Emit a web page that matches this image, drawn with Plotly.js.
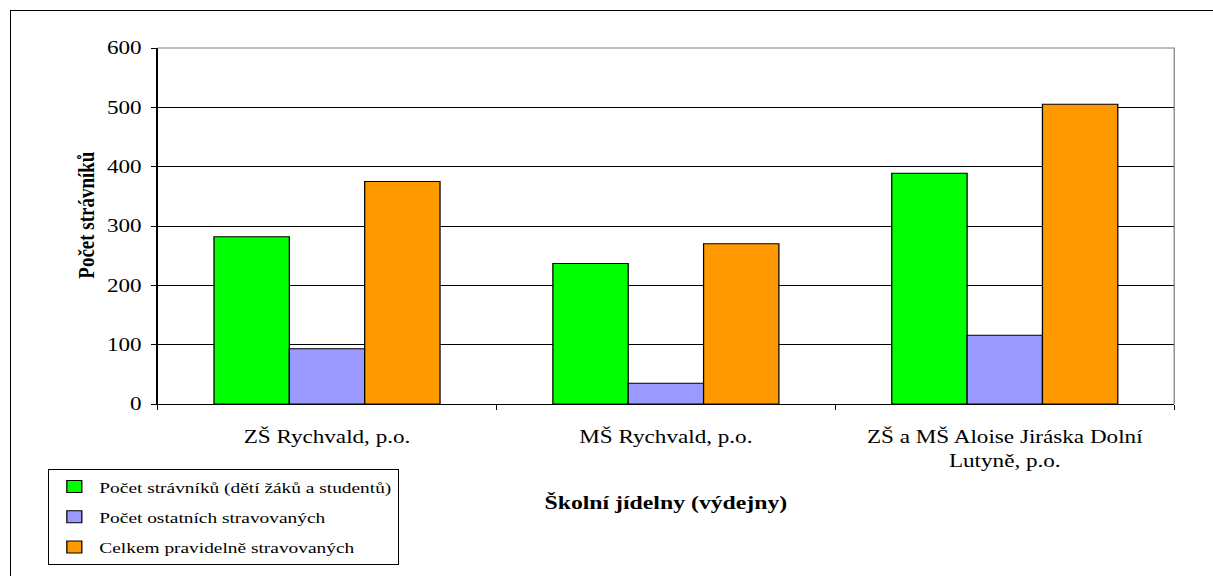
<!DOCTYPE html>
<html>
<head>
<meta charset="utf-8">
<script src="https://cdn.plot.ly/plotly-3.0.1.min.js"></script>
<style>
  html, body { margin: 0; padding: 0; background: #fff; overflow: hidden; }
  #wrap { position: relative; width: 1213px; height: 576px; overflow: hidden; }
  #chart { position: absolute; left: 0; top: 0; width: 970px; height: 576px;
           transform: scaleX(1.2505); transform-origin: 0 0; }
  #frame { position: absolute; left: 10px; top: 10px; width: 1300px; height: 700px;
           border-left: 1px solid #000; border-top: 1px solid #000; pointer-events: none; }
</style>
</head>
<body>
<div id="wrap">
  <div id="chart"></div>
  <div id="frame"></div>
</div>
<script>
const categories = [
  "ZŠ Rychvald, p.o.",
  "MŠ Rychvald, p.o.",
  "ZŠ a MŠ Aloise Jiráska Dolní<br>Lutyně, p.o."
];
const seriesNames = [
  "Počet strávníků (dětí žáků a studentů)",
  "Počet ostatních stravovaných",
  "Celkem pravidelně stravovaných"
];
const pupils = [282, 237, 389];
const others = [93, 35, 116];
const total = [375, 270, 505];
const colors = ["#00FF00", "#9999FF", "#FF9900"];
const yTicks = [0, 100, 200, 300, 400, 500, 600];

const FONT = "Liberation Serif, Times New Roman, serif";
const values = [pupils, others, total];
const traces = values.map((v, i) => ({
  type: "bar",
  name: seriesNames[i],
  x: categories,
  y: v,
  legendgroup: "g" + i,
  marker: { color: colors[i], line: { color: "#000", width: 1 } },
  hoverinfo: "none"
}));

const layout = {
  width: 970,
  height: 576,
  margin: { l: 126, r: 31, t: 48, b: 172, autoexpand: false },
  paper_bgcolor: "rgba(0,0,0,0)",
  plot_bgcolor: "#fff",
  barmode: "group",
  bargap: 0.333,
  bargroupgap: 0,
  font: { family: FONT, color: "#000" },
  xaxis: {
    type: "category",
    showline: true, linecolor: "#000", linewidth: 1,
    ticks: "outside", ticklen: 5, tickcolor: "#000", tickson: "boundaries",
    showgrid: false,
    tickangle: 0,
    tickfont: { family: FONT, size: 18.5, color: "#000" },
    ticklabelstandoff: 16,
    title: { text: "<b>Školní jídelny (výdejny)</b>", font: { family: FONT, size: 19, color: "#000" }, standoff: 25 },
    automargin: false
  },
  yaxis: {
    range: [0, 600],
    tickvals: yTicks,
    ticktext: yTicks.map(String),
    showline: true, linecolor: "#000", linewidth: 1,
    ticks: "outside", ticklen: 4, tickcolor: "#000",
    showgrid: true, gridcolor: "#000", gridwidth: 1,
    zeroline: false,
    tickfont: { family: FONT, size: 18.5, color: "#000" },
    ticklabelstandoff: 4,
    automargin: false
  },
  annotations: [{
    text: "<b>Počet strávníků</b>",
    xref: "paper", yref: "paper",
    x: -0.0704, y: 0.531,
    xanchor: "center", yanchor: "middle",
    textangle: -90, showarrow: false,
    font: { family: FONT, size: 19, color: "#000" }
  }],
  showlegend: true,
  legend: {
    x: -0.1077, xanchor: "left",
    y: -0.1826, yanchor: "top",
    bgcolor: "#fff",
    bordercolor: "#000", borderwidth: 1,
    font: { family: FONT, size: 15.5, color: "#000" },
    traceorder: "grouped",
    tracegroupgap: 7,
    itemwidth: 30
  },
  shapes: [{
    type: "path", xref: "paper", yref: "paper",
    path: "M0,1 L1,1 L1,0",
    line: { color: "#808080", width: 1 },
    layer: "above"
  }]
};

Plotly.newPlot("chart", traces, layout, { staticPlot: true, displayModeBar: false });
</script>
</body>
</html>
